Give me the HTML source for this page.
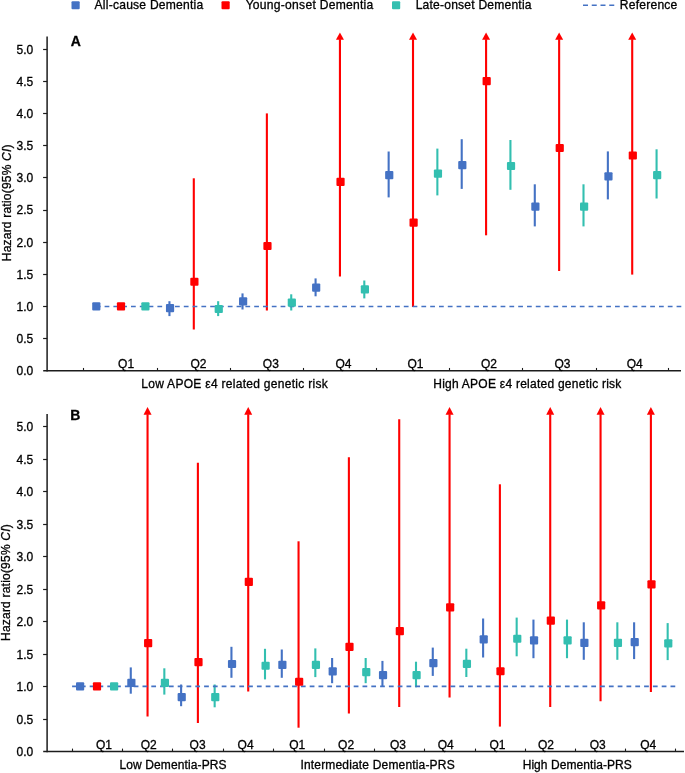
<!DOCTYPE html>
<html><head><meta charset="utf-8"><title>Hazard ratio chart</title>
<style>html,body{margin:0;padding:0;background:#fff;}svg{display:block;will-change:transform;filter:blur(0.3px);} svg text{stroke:#000;stroke-width:0.3px;}</style>
</head><body>
<svg width="685" height="773" viewBox="0 0 685 773" font-family="Liberation Sans, sans-serif" font-size="12" fill="#000">
<rect width="685" height="773" fill="#fff"/>
<rect x="71.5" y="1.2" width="8.2" height="8.1" rx="1" fill="#4472C4"/>
<rect x="221.5" y="1.2" width="8.2" height="8.1" rx="1" fill="#FF0000"/>
<rect x="392" y="1.2" width="8.2" height="8.1" rx="1" fill="#33BFB0"/>
<line x1="583" y1="5.3" x2="615" y2="5.3" stroke="#4472C4" stroke-width="1.5" stroke-dasharray="5 3.75"/>
<g font-size="12.1">
<text x="94.55" y="9.2" textLength="108.70" lengthAdjust="spacing">All-cause Dementia</text>
<text x="245.65" y="9.2" textLength="127.60" lengthAdjust="spacing">Young-onset Dementia</text>
<text x="415.65" y="9.2" textLength="115.90" lengthAdjust="spacing">Late-onset Dementia</text>
<text x="619.75" y="9.2" textLength="57.60" lengthAdjust="spacing">Reference</text>
</g>
<line x1="47.1" y1="36.6" x2="47.1" y2="371.5" stroke="#1c1c1c" stroke-width="1.5"/>
<text x="33.3" y="375.10" text-anchor="end">0.0</text>
<line x1="43.1" y1="338.50" x2="47.1" y2="338.50" stroke="#1c1c1c" stroke-width="1.2"/>
<text x="33.3" y="342.96" text-anchor="end">0.5</text>
<line x1="43.1" y1="306.50" x2="47.1" y2="306.50" stroke="#1c1c1c" stroke-width="1.2"/>
<text x="33.3" y="310.82" text-anchor="end">1.0</text>
<line x1="43.1" y1="274.50" x2="47.1" y2="274.50" stroke="#1c1c1c" stroke-width="1.2"/>
<text x="33.3" y="278.68" text-anchor="end">1.5</text>
<line x1="43.1" y1="242.50" x2="47.1" y2="242.50" stroke="#1c1c1c" stroke-width="1.2"/>
<text x="33.3" y="246.54" text-anchor="end">2.0</text>
<line x1="43.1" y1="210.50" x2="47.1" y2="210.50" stroke="#1c1c1c" stroke-width="1.2"/>
<text x="33.3" y="214.40" text-anchor="end">2.5</text>
<line x1="43.1" y1="177.50" x2="47.1" y2="177.50" stroke="#1c1c1c" stroke-width="1.2"/>
<text x="33.3" y="182.26" text-anchor="end">3.0</text>
<line x1="43.1" y1="145.50" x2="47.1" y2="145.50" stroke="#1c1c1c" stroke-width="1.2"/>
<text x="33.3" y="150.12" text-anchor="end">3.5</text>
<line x1="43.1" y1="113.50" x2="47.1" y2="113.50" stroke="#1c1c1c" stroke-width="1.2"/>
<text x="33.3" y="117.98" text-anchor="end">4.0</text>
<line x1="43.1" y1="81.50" x2="47.1" y2="81.50" stroke="#1c1c1c" stroke-width="1.2"/>
<text x="33.3" y="85.84" text-anchor="end">4.5</text>
<line x1="43.1" y1="49.50" x2="47.1" y2="49.50" stroke="#1c1c1c" stroke-width="1.2"/>
<text x="33.3" y="53.70" text-anchor="end">5.0</text>
<line x1="43.2" y1="370.75" x2="681" y2="370.75" stroke="#1c1c1c" stroke-width="1.5"/>
<line x1="83.50" y1="367.95" x2="83.50" y2="370.75" stroke="#1c1c1c" stroke-width="1.1"/>
<line x1="157.50" y1="367.95" x2="157.50" y2="370.75" stroke="#1c1c1c" stroke-width="1.1"/>
<line x1="230.50" y1="367.95" x2="230.50" y2="370.75" stroke="#1c1c1c" stroke-width="1.1"/>
<line x1="303.50" y1="367.95" x2="303.50" y2="370.75" stroke="#1c1c1c" stroke-width="1.1"/>
<line x1="376.50" y1="367.95" x2="376.50" y2="370.75" stroke="#1c1c1c" stroke-width="1.1"/>
<line x1="449.50" y1="367.95" x2="449.50" y2="370.75" stroke="#1c1c1c" stroke-width="1.1"/>
<line x1="522.50" y1="367.95" x2="522.50" y2="370.75" stroke="#1c1c1c" stroke-width="1.1"/>
<line x1="596.50" y1="367.95" x2="596.50" y2="370.75" stroke="#1c1c1c" stroke-width="1.1"/>
<line x1="668.50" y1="367.95" x2="668.50" y2="370.75" stroke="#1c1c1c" stroke-width="1.1"/>
<line x1="169.45" y1="301.2" x2="169.45" y2="316.1" stroke="#4472C4" stroke-width="2.1"/>
<line x1="193.8" y1="178.3" x2="193.8" y2="329.5" stroke="#FF0000" stroke-width="2.1"/>
<line x1="218.16" y1="301.2" x2="218.16" y2="316.1" stroke="#33BFB0" stroke-width="2.1"/>
<line x1="242.52" y1="293.4" x2="242.52" y2="309.5" stroke="#4472C4" stroke-width="2.1"/>
<line x1="266.87" y1="113.4" x2="266.87" y2="310.5" stroke="#FF0000" stroke-width="2.1"/>
<line x1="291.23" y1="294.29999999999995" x2="291.23" y2="310.5" stroke="#33BFB0" stroke-width="2.1"/>
<line x1="315.58" y1="278.4" x2="315.58" y2="296.3" stroke="#4472C4" stroke-width="2.1"/>
<line x1="339.94" y1="39.2" x2="339.94" y2="276.5" stroke="#FF0000" stroke-width="2.1"/>
<polygon points="339.94,32.6 335.94,39.7 343.94,39.7" fill="#FF0000"/>
<line x1="364.3" y1="280.5" x2="364.3" y2="298.40000000000003" stroke="#33BFB0" stroke-width="2.1"/>
<line x1="388.65" y1="151.5" x2="388.65" y2="197.4" stroke="#4472C4" stroke-width="2.1"/>
<line x1="413.01" y1="39.2" x2="413.01" y2="307.1" stroke="#FF0000" stroke-width="2.1"/>
<polygon points="413.01,32.6 409.01,39.7 417.01,39.7" fill="#FF0000"/>
<line x1="437.36" y1="148.6" x2="437.36" y2="195.4" stroke="#33BFB0" stroke-width="2.1"/>
<line x1="461.72" y1="139.20000000000002" x2="461.72" y2="188.9" stroke="#4472C4" stroke-width="2.1"/>
<line x1="486.08" y1="39.2" x2="486.08" y2="235.29999999999998" stroke="#FF0000" stroke-width="2.1"/>
<polygon points="486.08,32.6 482.08,39.7 490.08,39.7" fill="#FF0000"/>
<line x1="510.43" y1="140.0" x2="510.43" y2="189.79999999999998" stroke="#33BFB0" stroke-width="2.1"/>
<line x1="534.79" y1="184.3" x2="534.79" y2="226.4" stroke="#4472C4" stroke-width="2.1"/>
<line x1="559.14" y1="39.2" x2="559.14" y2="271.0" stroke="#FF0000" stroke-width="2.1"/>
<polygon points="559.14,32.6 555.14,39.7 563.14,39.7" fill="#FF0000"/>
<line x1="583.5" y1="184.3" x2="583.5" y2="226.4" stroke="#33BFB0" stroke-width="2.1"/>
<line x1="607.86" y1="151.4" x2="607.86" y2="199.4" stroke="#4472C4" stroke-width="2.1"/>
<line x1="632.21" y1="39.2" x2="632.21" y2="274.6" stroke="#FF0000" stroke-width="2.1"/>
<polygon points="632.21,32.6 628.21,39.7 636.21,39.7" fill="#FF0000"/>
<line x1="656.57" y1="149.3" x2="656.57" y2="198.5" stroke="#33BFB0" stroke-width="2.1"/>
<line x1="95.8" y1="306.5" x2="681.3" y2="306.5" stroke="#4472C4" stroke-width="1.6" stroke-dasharray="4.75 4.05"/>
<rect x="92.20" y="302.20" width="8.2" height="8.2" rx="1" fill="#4472C4"/>
<rect x="116.90" y="302.20" width="8.2" height="8.2" rx="1" fill="#FF0000"/>
<rect x="141.30" y="302.20" width="8.2" height="8.2" rx="1" fill="#33BFB0"/>
<rect x="165.95" y="303.95" width="8.2" height="8.2" rx="1" fill="#4472C4"/>
<rect x="190.30" y="277.65" width="8.2" height="8.2" rx="1" fill="#FF0000"/>
<rect x="214.66" y="304.90" width="8.2" height="8.2" rx="1" fill="#33BFB0"/>
<rect x="239.02" y="297.25" width="8.2" height="8.2" rx="1" fill="#4472C4"/>
<rect x="263.37" y="241.90" width="8.2" height="8.2" rx="1" fill="#FF0000"/>
<rect x="287.73" y="298.60" width="8.2" height="8.2" rx="1" fill="#33BFB0"/>
<rect x="312.08" y="283.45" width="8.2" height="8.2" rx="1" fill="#4472C4"/>
<rect x="336.44" y="177.85" width="8.2" height="8.2" rx="1" fill="#FF0000"/>
<rect x="360.80" y="285.20" width="8.2" height="8.2" rx="1" fill="#33BFB0"/>
<rect x="385.15" y="171.10" width="8.2" height="8.2" rx="1" fill="#4472C4"/>
<rect x="409.51" y="218.55" width="8.2" height="8.2" rx="1" fill="#FF0000"/>
<rect x="433.86" y="169.60" width="8.2" height="8.2" rx="1" fill="#33BFB0"/>
<rect x="458.22" y="161.10" width="8.2" height="8.2" rx="1" fill="#4472C4"/>
<rect x="482.58" y="76.95" width="8.2" height="8.2" rx="1" fill="#FF0000"/>
<rect x="506.93" y="161.90" width="8.2" height="8.2" rx="1" fill="#33BFB0"/>
<rect x="531.29" y="202.45" width="8.2" height="8.2" rx="1" fill="#4472C4"/>
<rect x="555.64" y="143.90" width="8.2" height="8.2" rx="1" fill="#FF0000"/>
<rect x="580.00" y="202.45" width="8.2" height="8.2" rx="1" fill="#33BFB0"/>
<rect x="604.36" y="172.20" width="8.2" height="8.2" rx="1" fill="#4472C4"/>
<rect x="628.71" y="151.40" width="8.2" height="8.2" rx="1" fill="#FF0000"/>
<rect x="653.07" y="171.10" width="8.2" height="8.2" rx="1" fill="#33BFB0"/>
<text x="70.8" y="45.7" font-weight="bold" font-size="14">A</text>
<text x="126.1" y="367.9" text-anchor="middle">Q1</text>
<text x="198.4" y="367.9" text-anchor="middle">Q2</text>
<text x="270.85" y="367.9" text-anchor="middle">Q3</text>
<text x="343.5" y="367.9" text-anchor="middle">Q4</text>
<text x="415.5" y="367.9" text-anchor="middle">Q1</text>
<text x="488.9" y="367.9" text-anchor="middle">Q2</text>
<text x="562.5" y="367.9" text-anchor="middle">Q3</text>
<text x="634.8" y="367.9" text-anchor="middle">Q4</text>
<text x="141.25" y="387.6" textLength="186.50" lengthAdjust="spacing">Low APOE ε4 related genetic risk</text>
<text x="433.25" y="387.6" textLength="188.10" lengthAdjust="spacing">High APOE ε4 related genetic risk</text>
<text transform="translate(10.6,261.20) rotate(-90)" textLength="116.70" lengthAdjust="spacing">Hazard ratio(95% <tspan font-style="italic">CI</tspan>)</text>
<line x1="47.1" y1="414.1" x2="47.1" y2="752.15" stroke="#1c1c1c" stroke-width="1.5"/>
<text x="33.3" y="755.75" text-anchor="end">0.0</text>
<line x1="43.1" y1="719.50" x2="47.1" y2="719.50" stroke="#1c1c1c" stroke-width="1.2"/>
<text x="33.3" y="723.55" text-anchor="end">0.5</text>
<line x1="43.1" y1="686.50" x2="47.1" y2="686.50" stroke="#1c1c1c" stroke-width="1.2"/>
<text x="33.3" y="690.65" text-anchor="end">1.0</text>
<line x1="43.1" y1="654.50" x2="47.1" y2="654.50" stroke="#1c1c1c" stroke-width="1.2"/>
<text x="33.3" y="658.65" text-anchor="end">1.5</text>
<line x1="43.1" y1="621.50" x2="47.1" y2="621.50" stroke="#1c1c1c" stroke-width="1.2"/>
<text x="33.3" y="625.75" text-anchor="end">2.0</text>
<line x1="43.1" y1="589.50" x2="47.1" y2="589.50" stroke="#1c1c1c" stroke-width="1.2"/>
<text x="33.3" y="593.85" text-anchor="end">2.5</text>
<line x1="43.1" y1="556.50" x2="47.1" y2="556.50" stroke="#1c1c1c" stroke-width="1.2"/>
<text x="33.3" y="560.65" text-anchor="end">3.0</text>
<line x1="43.1" y1="524.50" x2="47.1" y2="524.50" stroke="#1c1c1c" stroke-width="1.2"/>
<text x="33.3" y="528.65" text-anchor="end">3.5</text>
<line x1="43.1" y1="491.50" x2="47.1" y2="491.50" stroke="#1c1c1c" stroke-width="1.2"/>
<text x="33.3" y="495.75" text-anchor="end">4.0</text>
<line x1="43.1" y1="459.50" x2="47.1" y2="459.50" stroke="#1c1c1c" stroke-width="1.2"/>
<text x="33.3" y="463.95" text-anchor="end">4.5</text>
<line x1="43.1" y1="426.50" x2="47.1" y2="426.50" stroke="#1c1c1c" stroke-width="1.2"/>
<text x="33.3" y="430.75" text-anchor="end">5.0</text>
<line x1="43.2" y1="751.4" x2="684" y2="751.4" stroke="#1c1c1c" stroke-width="1.5"/>
<line x1="72.50" y1="748.60" x2="72.50" y2="751.4" stroke="#1c1c1c" stroke-width="1.1"/>
<line x1="122.50" y1="748.60" x2="122.50" y2="751.4" stroke="#1c1c1c" stroke-width="1.1"/>
<line x1="172.50" y1="748.60" x2="172.50" y2="751.4" stroke="#1c1c1c" stroke-width="1.1"/>
<line x1="223.50" y1="748.60" x2="223.50" y2="751.4" stroke="#1c1c1c" stroke-width="1.1"/>
<line x1="273.50" y1="748.60" x2="273.50" y2="751.4" stroke="#1c1c1c" stroke-width="1.1"/>
<line x1="324.50" y1="748.60" x2="324.50" y2="751.4" stroke="#1c1c1c" stroke-width="1.1"/>
<line x1="374.50" y1="748.60" x2="374.50" y2="751.4" stroke="#1c1c1c" stroke-width="1.1"/>
<line x1="424.50" y1="748.60" x2="424.50" y2="751.4" stroke="#1c1c1c" stroke-width="1.1"/>
<line x1="475.50" y1="748.60" x2="475.50" y2="751.4" stroke="#1c1c1c" stroke-width="1.1"/>
<line x1="525.50" y1="748.60" x2="525.50" y2="751.4" stroke="#1c1c1c" stroke-width="1.1"/>
<line x1="575.50" y1="748.60" x2="575.50" y2="751.4" stroke="#1c1c1c" stroke-width="1.1"/>
<line x1="625.50" y1="748.60" x2="625.50" y2="751.4" stroke="#1c1c1c" stroke-width="1.1"/>
<line x1="675.50" y1="748.60" x2="675.50" y2="751.4" stroke="#1c1c1c" stroke-width="1.1"/>
<line x1="130.77" y1="667.4" x2="130.77" y2="693.7" stroke="#4472C4" stroke-width="2.1"/>
<line x1="147.55" y1="414.2" x2="147.55" y2="716.4" stroke="#FF0000" stroke-width="2.1"/>
<polygon points="147.55,407.0 143.55,414.7 151.55,414.7" fill="#FF0000"/>
<line x1="164.33" y1="668.3" x2="164.33" y2="694.6" stroke="#33BFB0" stroke-width="2.1"/>
<line x1="181.11" y1="684.5" x2="181.11" y2="706.2" stroke="#4472C4" stroke-width="2.1"/>
<line x1="197.89" y1="462.7" x2="197.89" y2="722.9" stroke="#FF0000" stroke-width="2.1"/>
<line x1="214.66" y1="684.5" x2="214.66" y2="707.3000000000001" stroke="#33BFB0" stroke-width="2.1"/>
<line x1="231.44" y1="646.8" x2="231.44" y2="677.8000000000001" stroke="#4472C4" stroke-width="2.1"/>
<line x1="248.22" y1="414.2" x2="248.22" y2="691.6" stroke="#FF0000" stroke-width="2.1"/>
<polygon points="248.22,407.0 244.22,414.7 252.22,414.7" fill="#FF0000"/>
<line x1="265.0" y1="648.8" x2="265.0" y2="679.4" stroke="#33BFB0" stroke-width="2.1"/>
<line x1="281.78" y1="649.5" x2="281.78" y2="677.8000000000001" stroke="#4472C4" stroke-width="2.1"/>
<line x1="298.55" y1="541.3" x2="298.55" y2="727.7" stroke="#FF0000" stroke-width="2.1"/>
<line x1="315.33" y1="648.4" x2="315.33" y2="677.1" stroke="#33BFB0" stroke-width="2.1"/>
<line x1="332.11" y1="658.0" x2="332.11" y2="683.2" stroke="#4472C4" stroke-width="2.1"/>
<line x1="348.89" y1="457.29999999999995" x2="348.89" y2="713.4" stroke="#FF0000" stroke-width="2.1"/>
<line x1="365.67" y1="658.0" x2="365.67" y2="683.2" stroke="#33BFB0" stroke-width="2.1"/>
<line x1="382.44" y1="660.9" x2="382.44" y2="686.2" stroke="#4472C4" stroke-width="2.1"/>
<line x1="399.22" y1="419.29999999999995" x2="399.22" y2="706.9" stroke="#FF0000" stroke-width="2.1"/>
<line x1="416.0" y1="661.6999999999999" x2="416.0" y2="687.3000000000001" stroke="#33BFB0" stroke-width="2.1"/>
<line x1="432.78" y1="647.6" x2="432.78" y2="675.9" stroke="#4472C4" stroke-width="2.1"/>
<line x1="449.56" y1="414.2" x2="449.56" y2="697.4" stroke="#FF0000" stroke-width="2.1"/>
<polygon points="449.56,407.0 445.56,414.7 453.56,414.7" fill="#FF0000"/>
<line x1="466.33" y1="648.6999999999999" x2="466.33" y2="677.0" stroke="#33BFB0" stroke-width="2.1"/>
<line x1="483.11" y1="618.5" x2="483.11" y2="657.5" stroke="#4472C4" stroke-width="2.1"/>
<line x1="499.89" y1="484.29999999999995" x2="499.89" y2="726.6" stroke="#FF0000" stroke-width="2.1"/>
<line x1="516.67" y1="617.6" x2="516.67" y2="656.3000000000001" stroke="#33BFB0" stroke-width="2.1"/>
<line x1="533.45" y1="619.6" x2="533.45" y2="658.2" stroke="#4472C4" stroke-width="2.1"/>
<line x1="550.22" y1="414.2" x2="550.22" y2="706.9" stroke="#FF0000" stroke-width="2.1"/>
<polygon points="550.22,407.0 546.22,414.7 554.22,414.7" fill="#FF0000"/>
<line x1="567.0" y1="619.6" x2="567.0" y2="658.2" stroke="#33BFB0" stroke-width="2.1"/>
<line x1="583.78" y1="622.3" x2="583.78" y2="659.8000000000001" stroke="#4472C4" stroke-width="2.1"/>
<line x1="600.56" y1="414.2" x2="600.56" y2="701.2" stroke="#FF0000" stroke-width="2.1"/>
<polygon points="600.56,407.0 596.56,414.7 604.56,414.7" fill="#FF0000"/>
<line x1="617.34" y1="622.3" x2="617.34" y2="659.8000000000001" stroke="#33BFB0" stroke-width="2.1"/>
<line x1="634.11" y1="622.3" x2="634.11" y2="659.1" stroke="#4472C4" stroke-width="2.1"/>
<line x1="650.89" y1="414.2" x2="650.89" y2="691.9" stroke="#FF0000" stroke-width="2.1"/>
<polygon points="650.89,407.0 646.89,414.7 654.89,414.7" fill="#FF0000"/>
<line x1="667.67" y1="623.1" x2="667.67" y2="660.1" stroke="#33BFB0" stroke-width="2.1"/>
<line x1="72.1" y1="686.4" x2="675.3" y2="686.4" stroke="#4472C4" stroke-width="1.6" stroke-dasharray="4.75 4.05"/>
<rect x="76.00" y="682.30" width="8.2" height="8.2" rx="1" fill="#4472C4"/>
<rect x="92.90" y="682.30" width="8.2" height="8.2" rx="1" fill="#FF0000"/>
<rect x="110.00" y="682.30" width="8.2" height="8.2" rx="1" fill="#33BFB0"/>
<rect x="127.27" y="678.75" width="8.2" height="8.2" rx="1" fill="#4472C4"/>
<rect x="144.05" y="639.00" width="8.2" height="8.2" rx="1" fill="#FF0000"/>
<rect x="160.83" y="678.75" width="8.2" height="8.2" rx="1" fill="#33BFB0"/>
<rect x="177.61" y="693.00" width="8.2" height="8.2" rx="1" fill="#4472C4"/>
<rect x="194.39" y="658.05" width="8.2" height="8.2" rx="1" fill="#FF0000"/>
<rect x="211.16" y="693.00" width="8.2" height="8.2" rx="1" fill="#33BFB0"/>
<rect x="227.94" y="659.90" width="8.2" height="8.2" rx="1" fill="#4472C4"/>
<rect x="244.72" y="577.80" width="8.2" height="8.2" rx="1" fill="#FF0000"/>
<rect x="261.50" y="661.65" width="8.2" height="8.2" rx="1" fill="#33BFB0"/>
<rect x="278.28" y="660.80" width="8.2" height="8.2" rx="1" fill="#4472C4"/>
<rect x="295.05" y="677.65" width="8.2" height="8.2" rx="1" fill="#FF0000"/>
<rect x="311.83" y="660.80" width="8.2" height="8.2" rx="1" fill="#33BFB0"/>
<rect x="328.61" y="667.25" width="8.2" height="8.2" rx="1" fill="#4472C4"/>
<rect x="345.39" y="642.75" width="8.2" height="8.2" rx="1" fill="#FF0000"/>
<rect x="362.17" y="668.05" width="8.2" height="8.2" rx="1" fill="#33BFB0"/>
<rect x="378.94" y="671.00" width="8.2" height="8.2" rx="1" fill="#4472C4"/>
<rect x="395.72" y="627.05" width="8.2" height="8.2" rx="1" fill="#FF0000"/>
<rect x="412.50" y="671.00" width="8.2" height="8.2" rx="1" fill="#33BFB0"/>
<rect x="429.28" y="659.00" width="8.2" height="8.2" rx="1" fill="#4472C4"/>
<rect x="446.06" y="603.30" width="8.2" height="8.2" rx="1" fill="#FF0000"/>
<rect x="462.83" y="659.80" width="8.2" height="8.2" rx="1" fill="#33BFB0"/>
<rect x="479.61" y="635.30" width="8.2" height="8.2" rx="1" fill="#4472C4"/>
<rect x="496.39" y="667.15" width="8.2" height="8.2" rx="1" fill="#FF0000"/>
<rect x="513.17" y="634.65" width="8.2" height="8.2" rx="1" fill="#33BFB0"/>
<rect x="529.95" y="636.20" width="8.2" height="8.2" rx="1" fill="#4472C4"/>
<rect x="546.72" y="616.60" width="8.2" height="8.2" rx="1" fill="#FF0000"/>
<rect x="563.50" y="636.20" width="8.2" height="8.2" rx="1" fill="#33BFB0"/>
<rect x="580.28" y="638.80" width="8.2" height="8.2" rx="1" fill="#4472C4"/>
<rect x="597.06" y="601.25" width="8.2" height="8.2" rx="1" fill="#FF0000"/>
<rect x="613.84" y="638.80" width="8.2" height="8.2" rx="1" fill="#33BFB0"/>
<rect x="630.61" y="638.05" width="8.2" height="8.2" rx="1" fill="#4472C4"/>
<rect x="647.39" y="580.25" width="8.2" height="8.2" rx="1" fill="#FF0000"/>
<rect x="664.17" y="639.25" width="8.2" height="8.2" rx="1" fill="#33BFB0"/>
<text x="70.2" y="419.8" font-weight="bold" font-size="14">B</text>
<text x="104.0" y="748.8" text-anchor="middle">Q1</text>
<text x="148.7" y="748.8" text-anchor="middle">Q2</text>
<text x="197.6" y="748.8" text-anchor="middle">Q3</text>
<text x="245.6" y="748.8" text-anchor="middle">Q4</text>
<text x="297.2" y="748.8" text-anchor="middle">Q1</text>
<text x="346.1" y="748.8" text-anchor="middle">Q2</text>
<text x="397.9" y="748.8" text-anchor="middle">Q3</text>
<text x="445.8" y="748.8" text-anchor="middle">Q4</text>
<text x="497.4" y="748.8" text-anchor="middle">Q1</text>
<text x="545.9" y="748.8" text-anchor="middle">Q2</text>
<text x="597.7" y="748.8" text-anchor="middle">Q3</text>
<text x="648.2" y="748.8" text-anchor="middle">Q4</text>
<text x="119.45" y="769.2" textLength="107.10" lengthAdjust="spacing">Low Dementia-PRS</text>
<text x="300.45" y="769.2" textLength="154.20" lengthAdjust="spacing">Intermediate Dementia-PRS</text>
<text x="522.65" y="769.2" textLength="109.10" lengthAdjust="spacing">High Dementia-PRS</text>
<text transform="translate(10.3,640.90) rotate(-90)" textLength="116.60" lengthAdjust="spacing">Hazard ratio(95% <tspan font-style="italic">CI</tspan>)</text>
</svg>
</body></html>
